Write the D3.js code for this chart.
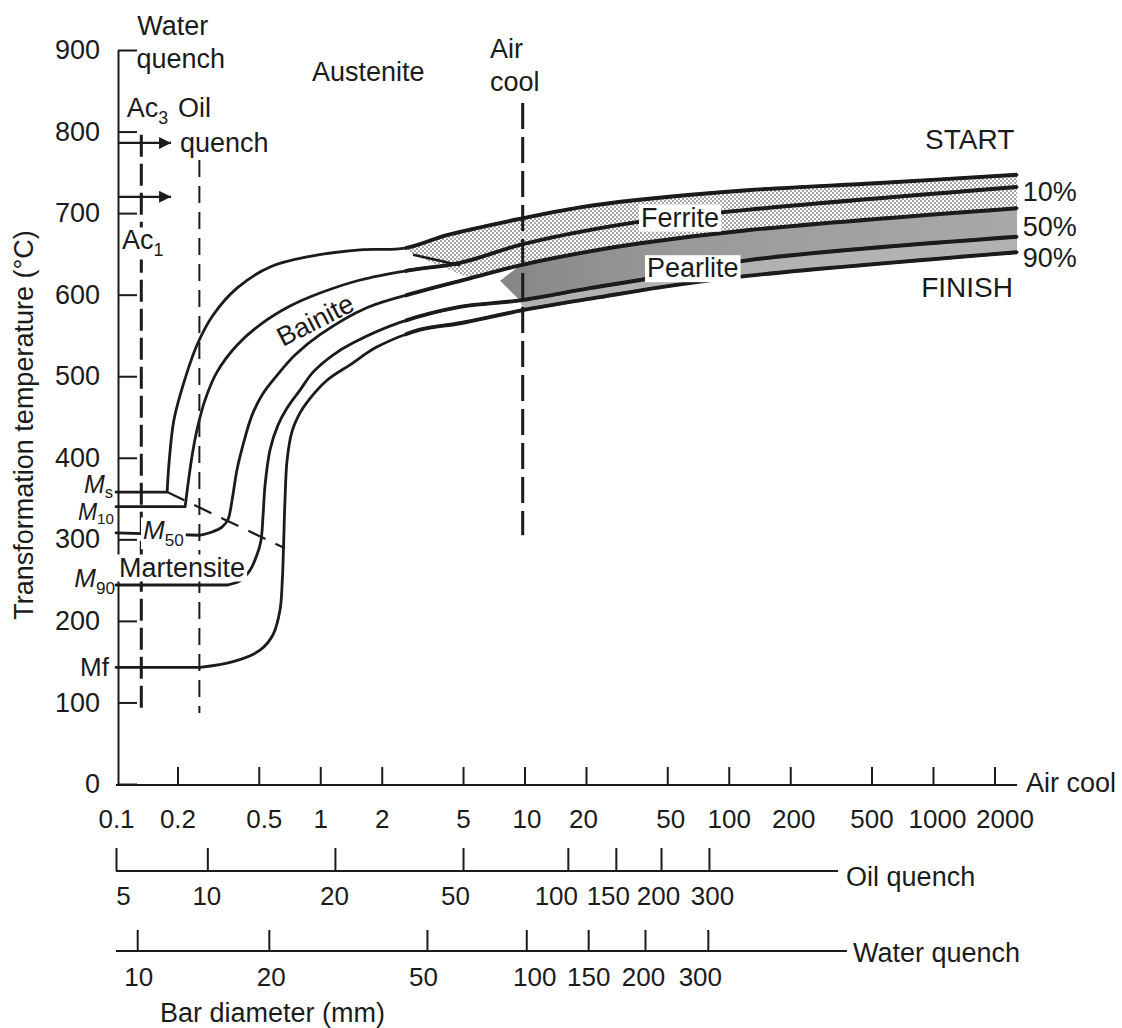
<!DOCTYPE html>
<html>
<head>
<meta charset="utf-8">
<script src="https://cdn.jsdelivr.net/npm/d3@7"></script>
<style>
  body { margin: 0; background: #fff; }
  svg { display: block; }
  text { font-family: "Liberation Sans", Arial, sans-serif; fill: #1b1b1b; }
</style>
</head>
<body>
<div id="chart"></div>
<script>
// main scale: air-cooled bar diameter (mm), temperature in °C
const airTicks = [0.1, 0.2, 0.5, 1, 2, 5, 10, 20, 50, 100, 200, 500, 1000, 2000];
const tempTicks = [0, 100, 200, 300, 400, 500, 600, 700, 800, 900];
// equivalent diameters for oil / water quench, given as the air-cool value they line up with
const oilTicks = [5, 10, 20, 50, 100, 150, 200, 300];
const oilAsAir = [0.1, 0.28, 1.18, 5.0, 16.3, 28, 46.6, 80];
const waterTicks = [10, 20, 50, 100, 150, 200, 300];
const waterAsAir = [0.127, 0.56, 3.33, 10.2, 20.5, 38.9, 79];

const Ac3 = 786, Ac1 = 720;
const waterQuenchAt = 0.133, oilQuenchAt = 0.256, airCoolAt = 9.8;

// transformation curves [air-cool diameter, °C]
const startCurve = [[0.1,358],[0.178,358],[0.182,395],[0.192,446],[0.213,489],[0.249,538],[0.299,575],[0.391,608],[0.568,634],[0.891,647],[1.57,655],[2.6,657],[4.17,673],[9.5,693],[18.7,707],[35.5,716],[123,728],[550,737],[2580,747]];
const curve10 = [[0.1,340],[0.218,340],[0.225,367],[0.236,403],[0.249,434],[0.273,471],[0.312,505],[0.391,538],[0.507,563],[0.711,586],[0.997,602],[1.57,618],[2.75,630],[4.83,639],[9.5,661],[18.7,677],[35.5,689],[123,704],[2580,732]];
const curve50 = [[0.1,308],[0.258,305],[0.295,309],[0.33,315],[0.353,324],[0.37,348],[0.391,385],[0.419,416],[0.463,452],[0.519,477],[0.614,501],[0.752,526],[0.997,551],[1.69,584],[3.08,604],[5.41,620],[9.5,636],[18.7,651],[36.8,663],[123,679],[2580,706]];
const curve90 = [[0.1,244],[0.35,244],[0.405,249],[0.453,262],[0.49,281],[0.513,299],[0.525,330],[0.537,367],[0.568,410],[0.621,440],[0.688,461],[0.796,483],[0.922,505],[1.154,526],[1.45,541],[2.46,566],[4.83,585],[9.5,593],[20.9,608],[46.1,622],[123,642],[2580,671]];
const finishCurve = [[0.1,143],[0.258,143],[0.374,150],[0.507,164],[0.587,183],[0.635,213],[0.652,250],[0.661,291],[0.672,348],[0.688,397],[0.727,432],[0.796,455],[0.861,468],[1.079,495],[1.4,514],[1.9,536],[3.08,557],[4.83,565],[9.83,581],[23.4,597],[46.1,609],[123,623],[2580,652]];
const bainiteMs = [[0.178,358],[0.672,289]];
const ferriteNotch = [2.85, 649];
const pearliteNotch = [7.6, 617];

const W = 1122, H = 1028;
const svg = d3.select("#chart").append("svg").attr("width", W).attr("height", H);
const x = d3.scaleLog().domain([0.1, 1000]).range([116, 933]);
const y = d3.scaleLinear().domain([0, 900]).range([784, 50]);
const ink = "#1b1b1b";

const defs = svg.append("defs");
const dots = defs.append("pattern").attr("id", "dots")
  .attr("width", 4).attr("height", 4).attr("patternUnits", "userSpaceOnUse");
dots.append("rect").attr("width", 4).attr("height", 4).attr("fill", "#fff");
dots.append("rect").attr("width", 2).attr("height", 2).attr("fill", "#a6a6a6");
dots.append("rect").attr("x", 2).attr("y", 2).attr("width", 2).attr("height", 2).attr("fill", "#a6a6a6");
const grad = defs.append("linearGradient").attr("id", "pearl")
  .attr("gradientUnits", "userSpaceOnUse")
  .attr("x1", x(7)).attr("x2", x(2580)).attr("y1", 0).attr("y2", 0);
grad.append("stop").attr("offset", 0).attr("stop-color", "#858585");
grad.append("stop").attr("offset", 0.35).attr("stop-color", "#999");
grad.append("stop").attr("offset", 1).attr("stop-color", "#a9a9a9");
defs.append("marker").attr("id", "arrow")
  .attr("viewBox", "0 0 10 10").attr("refX", 10).attr("refY", 5)
  .attr("markerWidth", 20).attr("markerHeight", 12)
  .attr("markerUnits", "userSpaceOnUse").attr("orient", "auto")
  .append("path").attr("d", "M0,0L10,5L0,10z").attr("fill", ink);
// the ferrite/pearlite part of each curve is drawn heavier
defs.append("clipPath").attr("id", "fpClip").append("rect")
  .attr("x", x(2.6)).attr("y", 0).attr("width", W).attr("height", H);

const straight = d3.line().x(d => x(d[0])).y(d => y(d[1]));
const bent = d3.line().x(d => x(d[0])).y(d => y(d[1])).curve(d3.curveCatmullRom.alpha(0.5));
const poly = d3.line().x(d => x(d[0])).y(d => y(d[1])).curve(d3.curveLinearClosed);
// flat M-line, then a smooth rise from the corner
const curvePath = c => straight(c.slice(0, 2)) + bent(c.slice(1));

// shaded regions
const from = (c, v) => c.filter(d => d[0] >= v);
svg.append("path")
  .attr("d", poly([ferriteNotch, ...from(startCurve, 2.6), ...from(curve50, 5.4).reverse()]))
  .attr("fill", "url(#dots)");
svg.append("path")
  .attr("d", poly([pearliteNotch, ...from(curve50, 9.5), ...from(curve90, 9.5).reverse()]))
  .attr("fill", "url(#pearl)");
svg.append("path")
  .attr("d", poly([...from(curve90, 9.5), ...from(finishCurve, 9.8).reverse()]))
  .attr("fill", "#b2b2b2");

// transformation curves
const curves = [startCurve, curve10, curve50, curve90, finishCurve];
svg.append("g").selectAll("path").data(curves).join("path")
  .attr("d", curvePath).attr("fill", "none").attr("stroke", ink)
  .attr("stroke-width", 2.8).attr("stroke-linecap", "round");
svg.append("g").attr("clip-path", "url(#fpClip)").selectAll("path").data(curves).join("path")
  .attr("d", curvePath).attr("fill", "none").attr("stroke", ink).attr("stroke-width", 3.9);
svg.append("path").attr("d", straight([ferriteNotch, [4.83, 636]]))
  .attr("fill", "none").attr("stroke", ink).attr("stroke-width", 2.5);
svg.append("path").attr("d", straight(bainiteMs))
  .attr("fill", "none").attr("stroke", ink).attr("stroke-width", 2.2).attr("stroke-dasharray", "19,11");

// cooling lines
const vline = (at, t0, t1, w, dash) => svg.append("line")
  .attr("x1", x(at)).attr("x2", x(at)).attr("y1", y(t0)).attr("y2", y(t1))
  .attr("stroke", ink).attr("stroke-width", w).attr("stroke-dasharray", dash);
vline(waterQuenchAt, 796, 85, 3, "22,7");
vline(oilQuenchAt, 765, 87, 2, "17,9");
vline(airCoolAt, 835, 305, 3, "26,8");

[Ac3, Ac1].forEach(t => svg.append("line")
  .attr("x1", x(0.1) + 2).attr("x2", x(0.186)).attr("y1", y(t)).attr("y2", y(t))
  .attr("stroke", ink).attr("stroke-width", 2.2).attr("marker-end", "url(#arrow)"));

// axes
function styleAxis(g, size) {
  g.selectAll("line, path").attr("stroke", ink).attr("stroke-width", 2);
  g.selectAll("text").attr("font-size", size).attr("fill", ink)
    .attr("font-family", '"Liberation Sans", Arial, sans-serif');
}
svg.append("g").attr("transform", `translate(${x(0.1) + 2},0)`)
  .call(d3.axisLeft(y).tickValues(tempTicks).tickSizeInner(-19).tickSizeOuter(0).tickPadding(18))
  .call(styleAxis, 27);

function bottomAxis(scale, ticks, yPos, endAir, tick, pad, shifts) {
  const g = svg.append("g").attr("transform", `translate(0,${yPos})`)
    .call(d3.axisBottom(scale).tickValues(ticks).tickFormat(d => String(d))
      .tickSizeInner(-tick).tickSizeOuter(0).tickPadding(pad))
    .call(styleAxis, 26);
  g.select(".domain").remove();
  g.selectAll(".tick text").attr("dx", (d, i) => shifts[i] || 0);
  g.append("line").attr("x1", x(0.1)).attr("x2", x(endAir))
    .attr("stroke", ink).attr("stroke-width", 2);
  return g;
}
const airG = bottomAxis(x, airTicks, 785, 2580, 18, 25, [0, 0, 5, 0, 0, 0, 2, -3, 3, 0, 3, 0, 4, 10]);
airG.select(".tick line").remove();
const oilScale = d3.scaleLog().domain(oilTicks).range(oilAsAir.map(x));
bottomAxis(oilScale, oilTicks, 871, 343, 23, 16, [7, -1, -1, -8, -12, -8, -3, 3]);
const waterScale = d3.scaleLog().domain(waterTicks).range(waterAsAir.map(x));
bottomAxis(waterScale, waterTicks, 951, 379, 21, 17, [1, 2, -4, 8, 0, -2, -8]);

// annotations
const layer = svg.append("g");
function note(px, py, parts, o = {}) {
  const size = o.size || 27;
  const g = layer.append("g");
  const bg = o.box ? g.append("rect").attr("fill", "#fff") : null;
  const t = g.append("text").attr("x", px).attr("y", py + size * 0.35)
    .attr("text-anchor", o.anchor || "start").attr("font-size", size);
  if (o.family) t.attr("font-family", o.family);
  [].concat(parts).forEach(p => {
    const s = typeof p === "string" ? { t: p } : p;
    const ts = t.append("tspan").text(s.t);
    if (s.it) ts.attr("font-style", "italic");
    if (s.sub) ts.attr("font-size", size * 0.66).attr("dy", size * (o.drop || 0.26));
  });
  if (o.rotate) g.attr("transform", `rotate(${o.rotate},${px},${py})`);
  if (bg) {
    const b = t.node().getBBox();
    bg.attr("x", b.x - 2).attr("y", b.y + 2).attr("width", b.width + 4).attr("height", b.height - 3);
  }
  return t;
}
const x0 = x(0.1);
note(x(0.127), y(930), "Water");
note(x(0.126), y(890), "quench");
note(x(0.113), y(830), ["Ac", { t: "3", sub: true }]);
note(x(0.201), y(830), "Oil");
note(x(0.2057), y(786), "quench");
note(x(0.107), y(667), ["Ac", { t: "1", sub: true }], { box: true });
note(x(0.911), y(873), "Austenite");
note(x(6.78), y(902), "Air");
note(x(6.78), y(861), "cool");
note(x(2500), y(791), "START", { anchor: "end", size: 28 });
note(x(2750), y(726), "10%");
note(x(2750), y(683), "50%");
note(x(2750), y(646), "90%");
note(x(2465), y(609), "FINISH", { anchor: "end", size: 28, family: '"Liberation Serif", "Times New Roman", serif' });
note(x(37.2), y(695), "Ferrite", { box: true });
note(x(39.8), y(633), "Pearlite", { box: true });
note(x(0.944), y(569), "Bainite", { anchor: "middle", rotate: -27 });
note(x0 - 3, y(368), [{ t: "M", it: true }, { t: "s", sub: true }], { anchor: "end", size: 25, drop: 0.22 });
note(x0 - 2, y(333), [{ t: "M", it: true }, { t: "10", sub: true }], { anchor: "end", size: 23, drop: 0.16 });
note(x0 + 27, y(311), [{ t: "M", it: true }, { t: "50", sub: true }], { box: true, size: 26 });
note(x0 - 1, y(253), [{ t: "M", it: true }, { t: "90", sub: true }], { anchor: "end", size: 26 });
note(x0 - 7, y(143), "Mf", { anchor: "end", size: 26 });
note(x0 + 3, y(266), "Martensite", { box: true });
note(x(2580) + 9, 783, "Air cool");
note(x(343) + 8, 877, "Oil quench");
note(x(379) + 6, 953, "Water quench");
note(x0 + 44, 1013, "Bar diameter (mm)");
svg.append("text").attr("transform", "translate(24,425) rotate(-90)")
  .attr("text-anchor", "middle").attr("y", 27 * 0.35).attr("font-size", 27)
  .text("Transformation temperature (°C)");
</script>
</body>
</html>
